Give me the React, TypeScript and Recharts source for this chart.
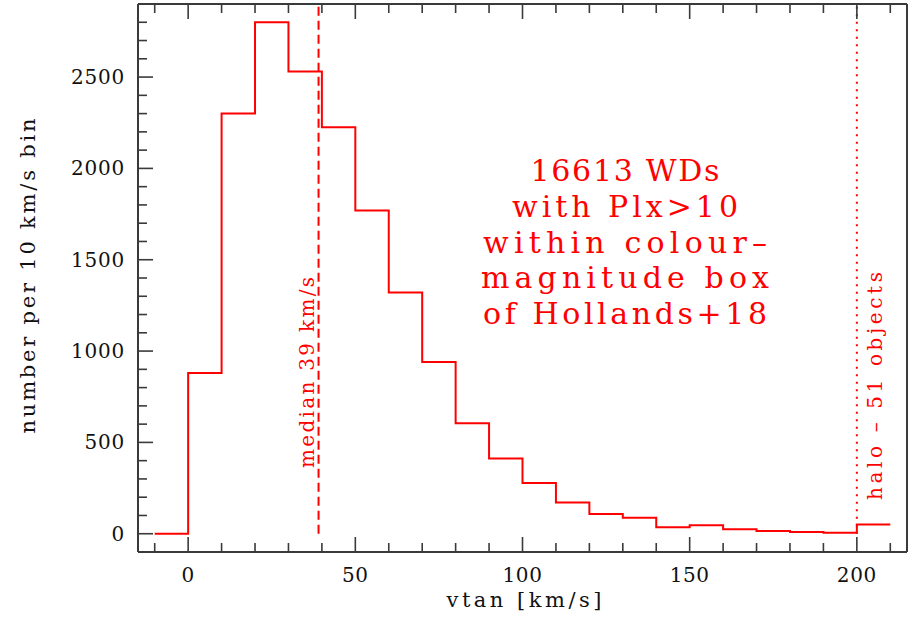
import { Label, Line, LineChart, ReferenceLine, XAxis, YAxis } from "recharts";

// left edges of the 10 km/s bins (last point closes the final bin)
const binEdges = [-10, 0, 10, 20, 30, 40, 50, 60, 70, 80, 90, 100, 110, 120, 130, 140, 150, 160, 170, 180, 190, 200, 210];
const binCounts = [0, 880, 2300, 2800, 2530, 2225, 1770, 1320, 940, 605, 412, 278, 171, 108, 88, 36, 46, 24, 15, 10, 6, 51, 51];

const xTicks = [-10, 0, 10, 20, 30, 40, 50, 60, 70, 80, 90, 100, 110, 120, 130, 140, 150, 160, 170, 180, 190, 200, 210];
const xMajor = [0, 50, 100, 150, 200];
const yTicks = [0, 100, 200, 300, 400, 500, 600, 700, 800, 900, 1000, 1100, 1200, 1300, 1400, 1500, 1600, 1700, 1800, 1900, 2000, 2100, 2200, 2300, 2400, 2500, 2600, 2700, 2800];
const yMajor = [0, 500, 1000, 1500, 2000, 2500];

const medianVtan = 39;
const haloCut = 200;
const noteLines = ["16613 WDs", "with Plx>10", "within colour\u2013", "magnitude box", "of Hollands+18"];
const noteWidths = [189, 226, 284, 288, 284];

const data = binEdges.map((v, i) => ({ v, n: binCounts[i] }));

const FONT = "'DejaVu Serif', serif";
const FRAME = "#3a3a3a";
const RED = "#ff0000";
const MAJOR = 15;
const MINOR = 9;

function XTick(props: any) {
  const { x, y, payload, side } = props;
  const major = xMajor.includes(payload.value);
  const len = major ? MAJOR : MINOR;
  const dir = side === "bottom" ? -1 : 1;
  return (
    <g>
      <line x1={x} y1={y} x2={x} y2={y + dir * len} stroke={FRAME} strokeWidth={1.6} />
      {side === "bottom" && major && (
        <text x={x} y={y + 30} textAnchor="middle" fontFamily={FONT} fontSize={20} fill="#111" letterSpacing={0.6}>
          {payload.value}
        </text>
      )}
    </g>
  );
}

function YTick(props: any) {
  const { x, y, payload, side } = props;
  const major = yMajor.includes(payload.value);
  const len = major ? MAJOR : MINOR;
  const dir = side === "left" ? 1 : -1;
  return (
    <g>
      <line x1={x} y1={y} x2={x + dir * len} y2={y} stroke={FRAME} strokeWidth={1.6} />
      {side === "left" && major && (
        <text x={x - 13} y={y + 7} textAnchor="end" fontFamily={FONT} fontSize={20} fill="#111" letterSpacing={0.8}>
          {payload.value}
        </text>
      )}
    </g>
  );
}

export default function App() {
  return (
    <div style={{ position: "absolute", left: 0, top: 0, width: 914, height: 622, background: "#fff" }}>
      <LineChart width={914} height={622} data={data} margin={{ top: 3, right: 6, bottom: 0, left: 0 }}>
        <XAxis
          xAxisId="b"
          dataKey="v"
          type="number"
          domain={[-15, 215]}
          ticks={xTicks}
          interval={0}
          height={70}
          tickSize={0}
          tickMargin={0}
          tickLine={false}
          axisLine={{ stroke: FRAME, strokeWidth: 2 }}
          tick={<XTick side="bottom" />}
        >
          <Label
            content={() => (
              <text x={524} y={607} textAnchor="middle" fontFamily={FONT} fontSize={21} fill="#111" textLength={155} lengthAdjust="spacing">
                vtan [km/s]
              </text>
            )}
          />
        </XAxis>
        <XAxis
          xAxisId="t"
          orientation="top"
          dataKey="v"
          type="number"
          domain={[-15, 215]}
          ticks={xTicks}
          interval={0}
          height={1}
          tickSize={0}
          tickMargin={0}
          tickLine={false}
          axisLine={{ stroke: FRAME, strokeWidth: 2 }}
          tick={<XTick side="top" />}
        />
        <YAxis
          yAxisId="l"
          type="number"
          domain={[-100, 2900]}
          ticks={yTicks}
          interval={0}
          width={138}
          tickSize={0}
          tickMargin={0}
          tickLine={false}
          axisLine={{ stroke: FRAME, strokeWidth: 2 }}
          tick={<YTick side="left" />}
        >
          <Label
            content={() => (
              <text
                x={28}
                y={276}
                transform="rotate(-90, 28, 276)"
                textAnchor="middle"
                dominantBaseline="central"
                fontFamily={FONT}
                fontSize={21}
                fill="#111"
                textLength={315}
                lengthAdjust="spacing"
              >
                number per 10 km/s bin
              </text>
            )}
          />
        </YAxis>
        <YAxis
          yAxisId="r"
          orientation="right"
          type="number"
          domain={[-100, 2900]}
          ticks={yTicks}
          interval={0}
          width={1}
          tickSize={0}
          tickMargin={0}
          tickLine={false}
          axisLine={{ stroke: FRAME, strokeWidth: 2 }}
          tick={<YTick side="right" />}
        />
        <ReferenceLine
          xAxisId="b"
          yAxisId="l"
          segment={[{ x: medianVtan, y: 0 }, { x: medianVtan, y: 2900 }]}
          stroke={RED}
          strokeWidth={2}
          strokeDasharray="9 5"
        >
          <Label
            content={(p: any) => {
              const vb = p.viewBox || {};
              const tx = (vb.x ?? 319) - 5;
              const ty = 468;
              return (
                <text x={tx} y={ty} transform={`rotate(-90, ${tx}, ${ty})`} fontFamily={FONT} fontSize={20} fill={RED} textLength={191} lengthAdjust="spacing">
                  median 39 km/s
                </text>
              );
            }}
          />
        </ReferenceLine>
        <ReferenceLine
          xAxisId="b"
          yAxisId="l"
          segment={[{ x: haloCut, y: 0 }, { x: haloCut, y: 2900 }]}
          stroke={RED}
          strokeWidth={2}
          strokeDasharray="2 5.5"
        >
          <Label
            content={(p: any) => {
              const vb = p.viewBox || {};
              const tx = (vb.x ?? 857) + 25;
              const ty = 500;
              return (
                <text x={tx} y={ty} transform={`rotate(-90, ${tx}, ${ty})`} fontFamily={FONT} fontSize={20} fill={RED} textLength={228} lengthAdjust="spacing">
                  halo – 51 objects
                </text>
              );
            }}
          />
        </ReferenceLine>
        <Line
          xAxisId="b"
          yAxisId="l"
          type="stepAfter"
          dataKey="n"
          stroke={RED}
          strokeWidth={2}
          dot={false}
          isAnimationActive={false}
        />
      </LineChart>
      <svg width={914} height={622} style={{ position: "absolute", left: 0, top: 0, pointerEvents: "none" }}>
        {noteLines.map((t, i) => (
          <text
            key={t}
            x={625}
            y={181 + i * 35.8}
            textAnchor="middle"
            fontFamily={FONT}
            fontSize={30}
            fill={RED}
            textLength={noteWidths[i]}
            lengthAdjust="spacing"
          >
            {t}
          </text>
        ))}
      </svg>
    </div>
  );
}
